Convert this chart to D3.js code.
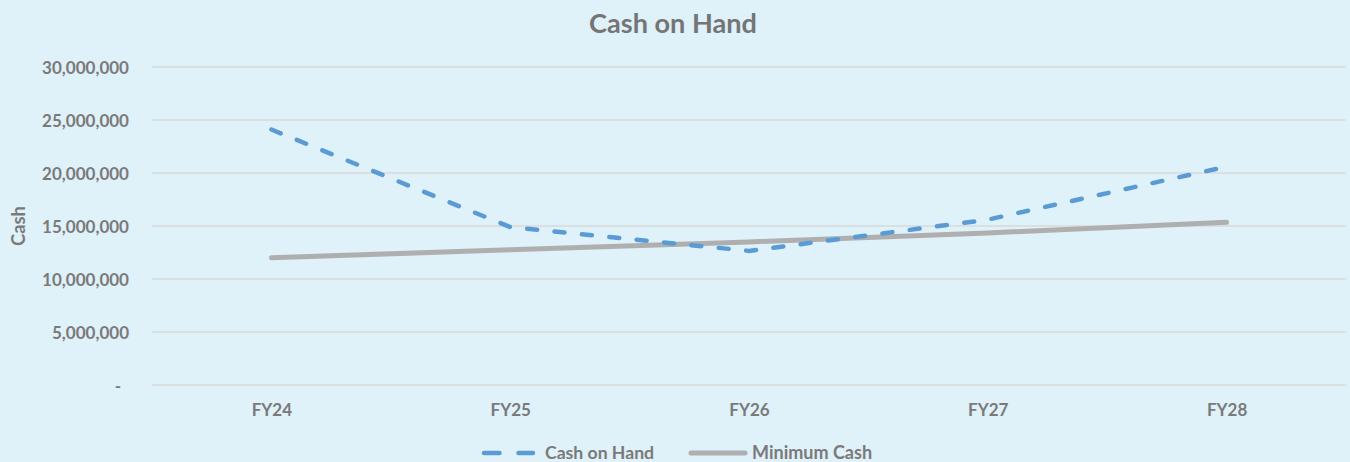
<!DOCTYPE html>
<html>
<head>
<meta charset="utf-8">
<script src="https://cdn.jsdelivr.net/npm/d3@7"></script>
<style>
  html, body { margin: 0; padding: 0; background: #DFF1F9; }
  svg { display: block; }
  text { font-family: Lato, "Open Sans", sans-serif; font-weight: bold; }
</style>
</head>
<body>
<script>
const categories = ["FY24", "FY25", "FY26", "FY27", "FY28"];
const cashOnHand = [24100000, 14900000, 12650000, 15600000, 20600000];
const minimumCash = [12000000, 12750000, 13500000, 14350000, 15350000];
const yTicks = [0, 5000000, 10000000, 15000000, 20000000, 25000000, 30000000];
const seriesNames = ["Cash on Hand", "Minimum Cash"];

const W = 1350, H = 462;
const bg = "#DFF1F9", textCol = "#7A7A7A", gridCol = "#D9D9D9";
const blue = "#5B9BD5", grey = "#AFAFAF";

const svg = d3.select("body").append("svg").attr("width", W).attr("height", H);
svg.append("rect").attr("width", W).attr("height", H).attr("fill", bg);

function fit(sel, target) {
  const n = sel.node();
  const fs = parseFloat(sel.attr("font-size"));
  const w = n.getComputedTextLength();
  if (w > 0) sel.attr("font-size", (fs * target / w).toFixed(2));
  return sel;
}

const x = d3.scalePoint().domain(categories).range([152, 1346]).padding(0.5);
const y = d3.scaleLinear().domain([0, 30000000]).range([385, 67]);

// gridlines
svg.append("g").selectAll("line").data(yTicks).join("line")
  .attr("x1", 152).attr("x2", 1346)
  .attr("y1", d => y(d)).attr("y2", d => y(d))
  .attr("stroke", gridCol).attr("stroke-width", 1.5);

// y axis labels
const fmt = d3.format(",");
const yAxis = d3.axisLeft(y).tickValues(yTicks).tickSize(0).tickPadding(0)
  .tickFormat(d => d === 0 ? "-" : fmt(d));
const ya = svg.append("g").attr("transform", "translate(129,0)").call(yAxis);
ya.select(".domain").remove();
ya.selectAll("text").attr("fill", textCol).attr("font-size", 17)
  .attr("font-family", "Lato, sans-serif").attr("font-weight", "bold")
  .attr("dy", "0.36em")
  .attr("x", d => d === 0 ? -8 : 0);
ya.selectAll("text").filter(d => d === 30000000).each(function(){ fit(d3.select(this), 87); });
const ysz = ya.selectAll("text").filter(d => d === 30000000).attr("font-size");
ya.selectAll("text").attr("font-size", ysz);

// x axis labels
const xAxis = d3.axisBottom(x).tickSize(0).tickPadding(0);
const xa = svg.append("g").attr("transform", "translate(0,0)").call(xAxis);
xa.select(".domain").remove();
xa.selectAll("text").attr("fill", textCol).attr("font-size", ysz)
  .attr("font-family", "Lato, sans-serif").attr("font-weight", "bold")
  .attr("y", 415.5).attr("dy", 0);

// axis title
const yt = svg.append("text").attr("transform", "translate(25,226) rotate(-90)")
  .attr("text-anchor", "middle").attr("fill", textCol).attr("font-size", 17).text("Cash");
fit(yt, 40);

// title
const title = svg.append("text").attr("x", 673).attr("y", 32.5).attr("text-anchor", "middle")
  .attr("fill", "#757575").attr("font-size", 26).text("Cash on Hand");
fit(title, 168);

// lines
const line = d3.line().x((d, i) => x(categories[i])).y(d => y(d));
svg.append("path").datum(minimumCash).attr("d", line)
  .attr("fill", "none").attr("stroke", grey).attr("stroke-width", 5)
  .attr("stroke-linecap", "round").attr("stroke-linejoin", "round");
svg.append("path").datum(cashOnHand).attr("d", line)
  .attr("fill", "none").attr("stroke", blue).attr("stroke-width", 4.5)
  .attr("stroke-linecap", "round").attr("stroke-linejoin", "round")
  .attr("stroke-dasharray", "10 17.5");

// legend
const lg = svg.append("g");
const ly = 453;
lg.append("line").attr("x1", 484).attr("x2", 533).attr("y1", ly).attr("y2", ly)
  .attr("stroke", blue).attr("stroke-width", 4.5).attr("stroke-linecap", "round")
  .attr("stroke-dasharray", "15.5 19");
const l1 = lg.append("text").attr("x", 545).attr("y", ly).attr("dy", "0.36em")
  .attr("fill", textCol).attr("font-size", ysz).text(seriesNames[0]);
fit(l1, 109);
lg.append("line").attr("x1", 691).attr("x2", 745).attr("y1", ly).attr("y2", ly)
  .attr("stroke", grey).attr("stroke-width", 5).attr("stroke-linecap", "round");
const l2 = lg.append("text").attr("x", 752).attr("y", ly).attr("dy", "0.36em")
  .attr("fill", textCol).attr("font-size", ysz).text(seriesNames[1]);
fit(l2, 120);
</script>
</body>
</html>
